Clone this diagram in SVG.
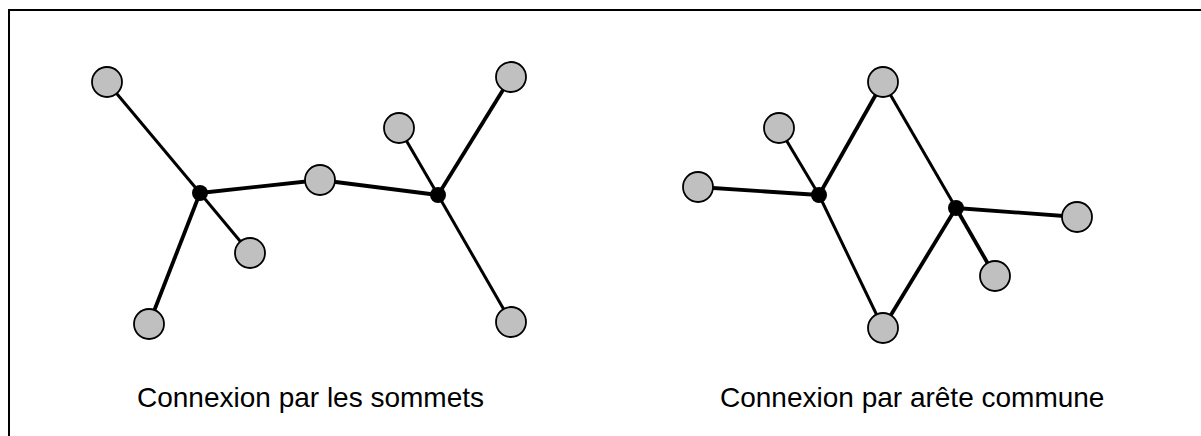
<svg xmlns="http://www.w3.org/2000/svg" width="1201" height="436" viewBox="0 0 1201 436">
<style>
.node{fill:#c0c0c0;stroke:#000;stroke-width:1.8}
.hub{fill:#000}
.e{stroke:#000;stroke-width:3;fill:none}
.t{stroke-width:3.8}
.lbl{font-family:"Liberation Sans",Arial,sans-serif;font-size:28px;fill:#000}
</style>
<rect x="9" y="10" width="1200" height="440" fill="#fff" stroke="#000" stroke-width="2"/>
<g id="connectors">
<line class="e" x1="200" y1="193" x2="107" y2="82"/>
<line class="e t" x1="200" y1="193" x2="149" y2="324"/>
<line class="e" x1="200" y1="193" x2="250" y2="253"/>
<line class="e t" x1="200" y1="193" x2="320" y2="180"/>
<line class="e t" x1="320" y1="180" x2="438" y2="195"/>
<line class="e" x1="438" y1="195" x2="399" y2="128"/>
<line class="e t" x1="438" y1="195" x2="511" y2="77"/>
<line class="e" x1="438" y1="195" x2="511" y2="322"/>
<line class="e t" x1="819" y1="195" x2="698" y2="187"/>
<line class="e" x1="819" y1="195" x2="779" y2="128"/>
<line class="e t" x1="819" y1="195" x2="883" y2="82"/>
<line class="e" x1="819" y1="195" x2="883" y2="328"/>
<line class="e" x1="883" y1="82" x2="956" y2="208"/>
<line class="e t" x1="883" y1="328" x2="956" y2="208"/>
<line class="e t" x1="956" y1="208" x2="1077" y2="217"/>
<line class="e t" x1="956" y1="208" x2="995" y2="276"/>
</g>
<g id="n1"><circle class="node" cx="107" cy="82" r="15"/></g>
<g id="n2"><circle class="node" cx="149" cy="324" r="15"/></g>
<g id="n3"><circle class="node" cx="250" cy="253" r="15"/></g>
<g id="n4"><circle class="node" cx="320" cy="180" r="15"/></g>
<g id="n5"><circle class="node" cx="399" cy="128" r="15"/></g>
<g id="n6"><circle class="node" cx="511" cy="77" r="15"/></g>
<g id="n7"><circle class="node" cx="511" cy="322" r="15"/></g>
<g id="h1"><circle class="hub" cx="200" cy="193" r="8"/></g>
<g id="h2"><circle class="hub" cx="438" cy="195" r="8"/></g>
<g id="m1"><circle class="node" cx="698" cy="187" r="15"/></g>
<g id="m2"><circle class="node" cx="779" cy="128" r="15"/></g>
<g id="m3"><circle class="node" cx="883" cy="82" r="15"/></g>
<g id="m4"><circle class="node" cx="883" cy="328" r="15"/></g>
<g id="m5"><circle class="node" cx="1077" cy="217" r="15"/></g>
<g id="m6"><circle class="node" cx="995" cy="276" r="15"/></g>
<g id="h3"><circle class="hub" cx="819" cy="195" r="8"/></g>
<g id="h4"><circle class="hub" cx="956" cy="208" r="8"/></g>
<g id="label1"><text class="lbl" x="137" y="407">Connexion par les sommets</text></g>
<g id="label2"><text class="lbl" x="720" y="407">Connexion par arête commune</text></g>
</svg>
